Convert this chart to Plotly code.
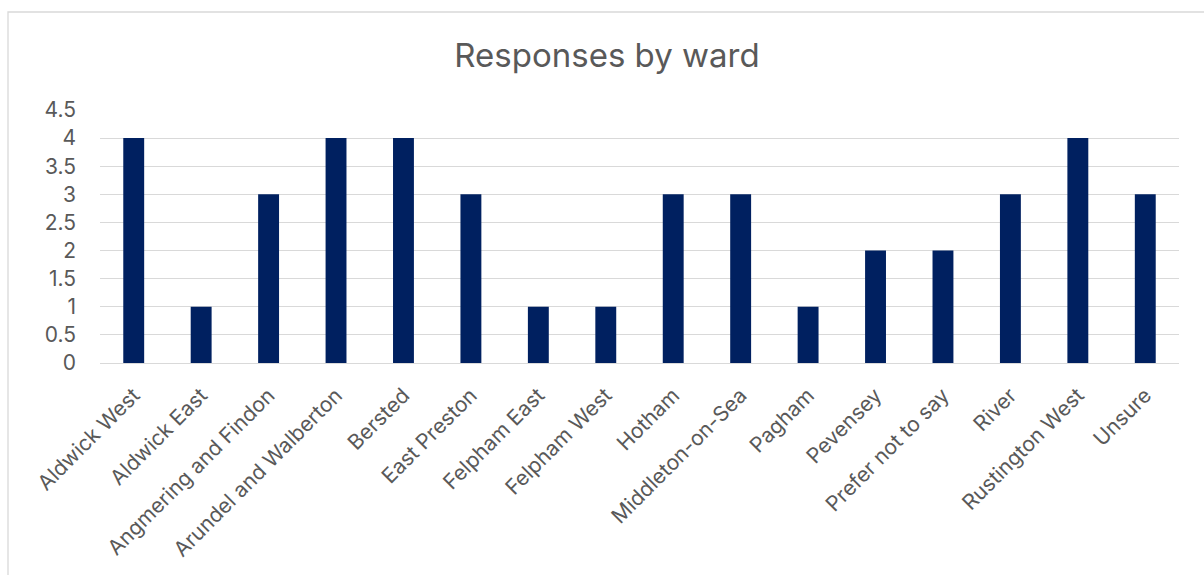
import plotly.graph_objects as go

wards = ["Aldwick West", "Aldwick East", "Angmering and Findon", "Arundel and Walberton",
         "Bersted", "East Preston", "Felpham East", "Felpham West", "Hotham",
         "Middleton-on-Sea", "Pagham", "Pevensey", "Prefer not to say", "River",
         "Rustington West", "Unsure"]
responses = [4, 1, 3, 4, 4, 3, 1, 1, 3, 3, 1, 2, 2, 3, 4, 3]
y_ticks = [0, 0.5, 1, 1.5, 2, 2.5, 3, 3.5, 4, 4.5]

W, H = 1204, 575
L, R, T, B = 100, 25, 110, 212
pw, ph = W - L - R, H - T - B

def px(x):
    return (x - L) / pw

def py(y):
    return (H - B - y) / ph

fig = go.Figure(go.Bar(x=wards, y=responses, marker=dict(color="#002060", line=dict(width=0)),
                       hoverinfo="x+y"))

fig.update_layout(
    width=W, height=H,
    margin=dict(l=L, r=R, t=T, b=B),
    paper_bgcolor="white", plot_bgcolor="white",
    font=dict(family="Inter, Liberation Sans, sans-serif", color="#595959", size=21),
    title=dict(text="Responses by ward", x=607 / W, xanchor="center",
               y=1 - 55 / H, yanchor="middle", font=dict(size=33, color="#595959")),
    bargap=0.69,
    showlegend=False,
    xaxis=dict(tickangle=-45, showgrid=False, showline=False, ticks="",
               ticklabelstandoff=15,
               tickfont=dict(size=21, color="#595959")),
    yaxis=dict(range=[0, 4.5], tickvals=y_ticks, ticktext=[str(v) for v in y_ticks],
               showgrid=True, gridcolor="#d9d9d9", gridwidth=1.3, zeroline=True,
               zerolinecolor="#d9d9d9", zerolinewidth=1.3, showline=False, ticks="",
               ticklabelstandoff=23,
               tickfont=dict(size=21, color="#595959")),
    shapes=[dict(type="rect", xref="paper", yref="paper",
                 x0=px(8), x1=px(1215), y0=py(12), y1=py(590),
                 line=dict(color="#d9d9d9", width=1.3), fillcolor="rgba(0,0,0,0)",
                 layer="below")],
)

fig.write_html("out.html")
